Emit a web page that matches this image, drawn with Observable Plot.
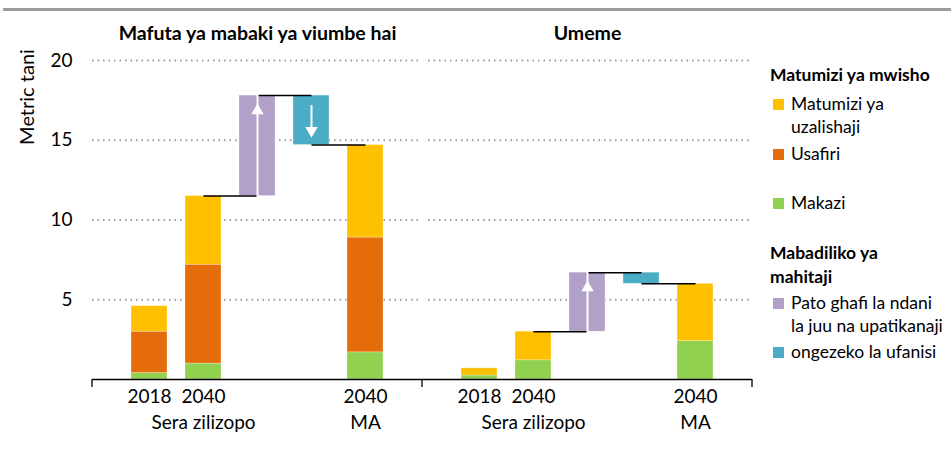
<!DOCTYPE html>
<html>
<head>
<meta charset="utf-8">
<script src="https://cdn.jsdelivr.net/npm/d3@7"></script>
<script src="https://cdn.jsdelivr.net/npm/@observablehq/plot@0.6"></script>
<style>
  body { margin: 0; background: #fff; font-family: Lato, "Open Sans", sans-serif; color: #000; }
  #wrap { position: relative; width: 951px; height: 462px; overflow: hidden; }
  #chart { position: absolute; left: 0; top: 0; }
  #topline { position: absolute; left: 3px; top: 8px; width: 948px; height: 3px; background: #9b9b9b; }
  #ylabel { position: absolute; left: 26px; top: 97px; transform: translate(-50%, -50%) rotate(-90deg); font-size: 20px; white-space: nowrap; }
  .lg { position: absolute; left: 791px; font-size: 17.5px; line-height: 20px; white-space: nowrap; }
  .lgh { left: 770px; font-weight: bold; }
  .sw { position: absolute; left: 773px; width: 11px; height: 11px; }
</style>
</head>
<body>
<div id="wrap">
  <div id="topline"></div>
  <div id="chart"></div>
  <div id="ylabel">Metric tani</div>
  <div id="legend"></div>
</div>
<script>
// ---- data ----
const panels = ["Mafuta ya mabaki ya viumbe hai", "Umeme"];
const categories = ["2018", "2040 Sera zilizopo", "Pato ghafi", "Ufanisi", "2040 MA"];
const yearLabels = ["2018", "2040", "", "", "2040"];
const groupLabels = ["", "Sera zilizopo", "", "", "MA"];
const stackCategories = ["2018", "2040 Sera zilizopo", "2040 MA"];
const series = ["Makazi", "Usafiri", "Matumizi ya uzalishaji"];
const seriesColors = ["#92D050", "#E46C0A", "#FFC000"];
const makaziMafuta = [0.4, 1.0, 1.7];
const usafiriMafuta = [2.6, 6.2, 7.2];
const uzalishajiMafuta = [1.6, 4.3, 5.8];
const makaziUmeme = [0.25, 1.2, 2.4];
const usafiriUmeme = [0, 0, 0];
const uzalishajiUmeme = [0.45, 1.8, 3.6];
const changeNames = ["Pato ghafi la ndani la juu na upatikanaji", "ongezeko la ufanisi"];
const changeColors = ["#B1A0C7", "#4BACC6"];
const patoChange = [6.3, 3.7];
const ufanisiChange = [-3.1, -0.7];
const yTicks = [5, 10, 15, 20];

// ---- build tables ----
const seriesValues = [
  [makaziMafuta, usafiriMafuta, uzalishajiMafuta],
  [makaziUmeme, usafiriUmeme, uzalishajiUmeme]
];
const stackRows = [];
panels.forEach((p, pi) => {
  stackCategories.forEach((c, ci) => {
    series.forEach((s, si) => {
      stackRows.push({panel: p, cat: c, name: s, value: seriesValues[pi][si][ci]});
    });
  });
});
const totalOf = (pi, ci) => seriesValues[pi].reduce((a, arr) => a + arr[ci], 0);
const changeRows = [];
const connectorRows = [];
panels.forEach((p, pi) => {
  const base = totalOf(pi, 1);
  const peak = base + patoChange[pi];
  const end = peak + ufanisiChange[pi];
  changeRows.push({panel: p, cat: categories[2], name: changeNames[0], y1: base, y2: peak});
  changeRows.push({panel: p, cat: categories[3], name: changeNames[1], y1: peak, y2: end});
  connectorRows.push({panel: p, from: categories[1], to: categories[2], y: base});
  connectorRows.push({panel: p, from: categories[2], to: categories[3], y: peak});
  connectorRows.push({panel: p, from: categories[3], to: categories[4], y: end});
});
const arrowRows = changeRows.filter(d => Math.abs(d.y2 - d.y1) > 1);
const labelRows = [];
panels.forEach(p => categories.forEach((c, i) => labelRows.push({panel: p, cat: c, year: yearLabels[i], group: groupLabels[i]})));
const gridRows = [];
panels.forEach(p => yTicks.forEach(v => gridRows.push({panel: p, v})));

const chart = Plot.plot({
  width: 760,
  height: 462,
  marginLeft: 91,
  marginRight: 8,
  marginTop: 60,
  marginBottom: 83,
  style: {fontFamily: "Lato, 'Open Sans', sans-serif", fontSize: "19px", color: "#000", background: "transparent"},
  fx: {domain: panels, padding: 0},
  x: {domain: categories, paddingInner: 0.33, paddingOuter: 0.667, axis: null},
  y: {domain: [0, 20]},
  color: {domain: [...series, ...changeNames], range: [...seriesColors, ...changeColors]},
  marks: [
    Plot.ruleY(gridRows.filter(d => d.panel === panels[0]), {fx: "panel", y: "v", stroke: "#a0a0a0", strokeWidth: 2, strokeDasharray: "1.6,3.9", insetRight: 4}),
    Plot.ruleY(gridRows.filter(d => d.panel === panels[1]), {fx: "panel", y: "v", stroke: "#a0a0a0", strokeWidth: 2, strokeDasharray: "1.6,3.9", insetLeft: 6, insetRight: 2}),
    Plot.barY(stackRows, {fx: "panel", x: "cat", y: "value", fill: "name", stroke: "#fff", strokeWidth: 0.5, strokeOpacity: 0.6}),
    Plot.barY(changeRows, {fx: "panel", x: "cat", y1: "y1", y2: "y2", fill: "name", stroke: "#fff", strokeWidth: 0.5, strokeOpacity: 0.6}),
    Plot.link(connectorRows, {fx: "panel", x1: "from", x2: "to", y1: "y", y2: "y", stroke: "#000", strokeWidth: 1.5}),
    Plot.ruleX(arrowRows.filter(d => d.y2 > d.y1), {fx: "panel", x: "cat", y1: "y1", y2: "y2", insetTop: 16, insetBottom: 7, stroke: "#fff", strokeWidth: 2}),
    Plot.dot(arrowRows.filter(d => d.y2 > d.y1), {fx: "panel", x: "cat", y: "y2", symbol: "triangle", r: 4.6, fill: "#fff", stroke: null, dy: 15}),
    Plot.ruleX(arrowRows.filter(d => d.y2 < d.y1), {fx: "panel", x: "cat", y1: "y1", y2: "y2", insetTop: 10, insetBottom: 16, stroke: "#fff", strokeWidth: 2}),
    Plot.dot(arrowRows.filter(d => d.y2 < d.y1), {fx: "panel", x: "cat", y: "y2", symbol: "triangle", rotate: 180, r: 4.6, fill: "#fff", stroke: null, dy: -14.5}),
    Plot.ruleY([0], {stroke: "#000", strokeWidth: 1.3}),
    Plot.text(labelRows, {fx: "panel", x: "cat", text: "year", frameAnchor: "bottom", dy: 23, fontSize: 19}),
    Plot.text(labelRows, {fx: "panel", x: "cat", text: "group", frameAnchor: "bottom", dy: 49, fontSize: 19}),
    Plot.axisY(yTicks, {anchor: "left", tickSize: 0, tickPadding: 20, label: null, fontSize: 19}),
    Plot.axisFx({anchor: "top", label: null, tickSize: 0, tickPadding: 21, fontSize: 19.5, fontWeight: "bold"})
  ]
});
document.getElementById("chart").appendChild(chart);

// panel edge ticks on the category axis, positioned from the plot's own scales
const fxS = chart.scale("fx");
const yS = chart.scale("y");
const y0 = yS.apply(0);
const edges = [fxS.apply(panels[0]), fxS.apply(panels[1]), fxS.apply(panels[1]) + fxS.bandwidth];
d3.select(chart).append("g")
  .selectAll("line").data(edges).join("line")
  .attr("x1", d => d).attr("x2", d => d)
  .attr("y1", y0).attr("y2", y0 + 8)
  .attr("stroke", "#000").attr("stroke-width", 1.3);

// legend
const legendItems = [
  {type: "h", lines: ["Matumizi ya mwisho"], y: [75]},
  {type: "i", color: seriesColors[2], lines: ["Matumizi ya", "uzalishaji"], y: [104, 127]},
  {type: "i", color: seriesColors[1], lines: ["Usafiri"], y: [154]},
  {type: "i", color: seriesColors[0], lines: ["Makazi"], y: [203]},
  {type: "h", lines: ["Mabadiliko ya", "mahitaji"], y: [253, 277]},
  {type: "i", color: changeColors[0], lines: ["Pato ghafi la ndani", "la juu na upatikanaji"], y: [303, 326]},
  {type: "i", color: changeColors[1], lines: ["ongezeko la ufanisi"], y: [352]}
];
const lg = document.getElementById("legend");
legendItems.forEach(it => {
  if (it.type === "i") {
    const sw = document.createElement("div");
    sw.className = "sw";
    sw.style.background = it.color;
    sw.style.top = (it.y[0] - 5.5) + "px";
    lg.appendChild(sw);
  }
  it.lines.forEach((t, k) => {
    const d = document.createElement("div");
    d.className = "lg" + (it.type === "h" ? " lgh" : "");
    d.textContent = t;
    d.style.top = (it.y[k] - 10) + "px";
    lg.appendChild(d);
  });
});
</script>
</body>
</html>
